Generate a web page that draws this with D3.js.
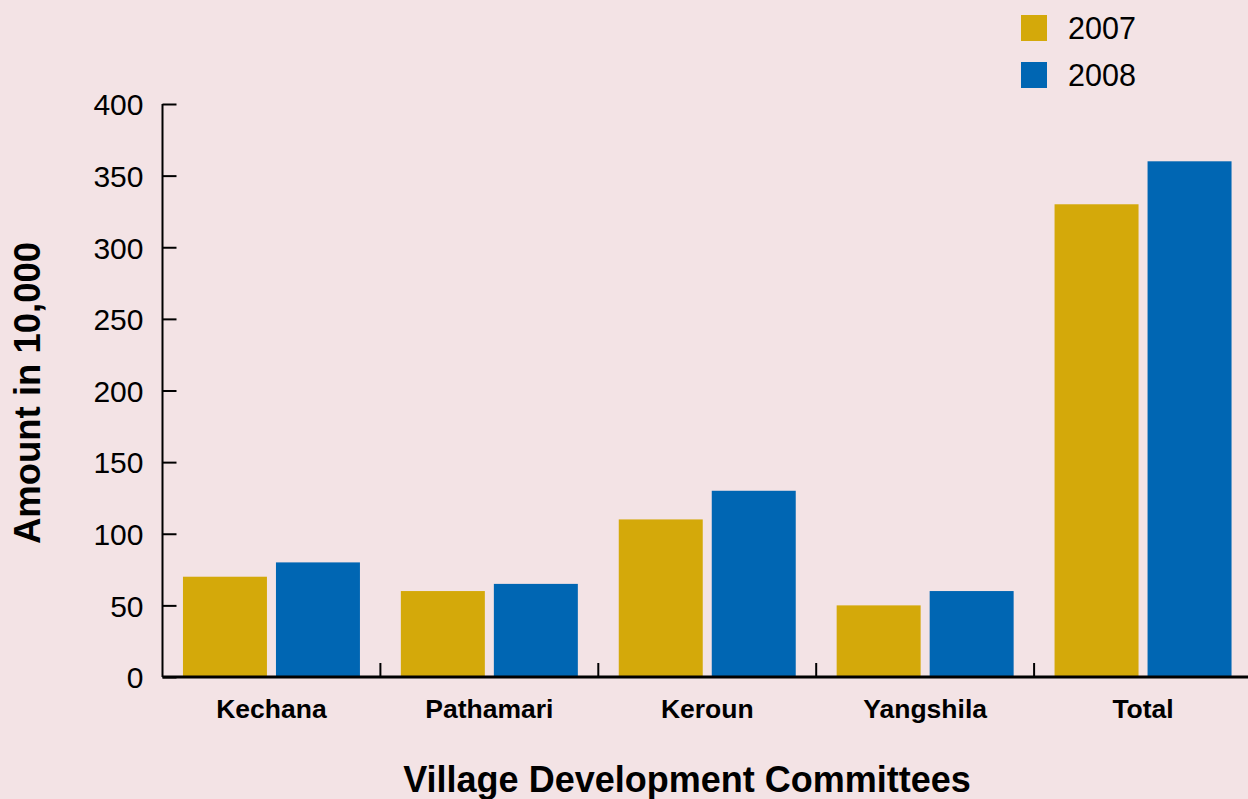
<!DOCTYPE html>
<html>
<head>
<meta charset="utf-8">
<script src="https://cdn.jsdelivr.net/npm/d3@7"></script>
<style>
  body { margin: 0; background: #f3e3e5; }
  svg { display: block; font-family: "Liberation Sans", Arial, sans-serif; }
</style>
</head>
<body>
<div id="chart"></div>
<script>
/* DATA */
const committees = ["Kechana", "Pathamari", "Keroun", "Yangshila", "Total"];
const years = ["2007", "2008"];
const values2007 = [70, 60, 110, 50, 330];
const values2008 = [80, 65, 130, 60, 360];
const yTicks = [0, 50, 100, 150, 200, 250, 300, 350, 400];
const colors = ["#d4a90a", "#0066b3"];

/* LAYOUT */
const width = 1248,
  height = 799,
  margin = { top: 104, bottom: 122, left: 162.5, right: -4 };

const rows = committees.map((c, i) => ({ name: c, vals: [values2007[i], values2008[i]] }));

const svg = d3.select("#chart")
  .append("svg")
  .attr("width", width)
  .attr("height", height);

svg.append("rect")
  .attr("width", width)
  .attr("height", height)
  .attr("fill", "#f3e3e5");

// scales
const xScale = d3.scaleBand()
  .domain(committees)
  .range([margin.left, width - margin.right]);

const xInner = d3.scaleBand()
  .domain(years)
  .range([0, xScale.bandwidth()])
  .paddingInner(0.097)
  .paddingOuter(0.22);

const yScale = d3.scaleLinear()
  .domain([0, 400])
  .range([height - margin.bottom, margin.top]);

const color = d3.scaleOrdinal().domain(years).range(colors);

// bars
svg.append("g")
  .selectAll("g")
  .data(rows)
  .join("g")
  .attr("transform", d => `translate(${xScale(d.name)},0)`)
  .selectAll("rect")
  .data(d => d.vals.map((v, j) => ({ year: years[j], value: v })))
  .join("rect")
  .attr("x", d => xInner(d.year))
  .attr("width", xInner.bandwidth())
  .attr("y", d => yScale(d.value))
  .attr("height", d => yScale(0) - yScale(d.value))
  .attr("fill", d => color(d.year));

// y axis (ticks pointing inward)
const yAxis = d3.axisRight(yScale)
  .tickValues(yTicks)
  .tickSize(14)
  .tickFormat(d3.format("d"));

const yG = svg.append("g")
  .attr("transform", `translate(${margin.left},0)`)
  .call(yAxis);
yG.select(".domain").remove();
yG.append("line")
  .attr("x1", 0).attr("x2", 0)
  .attr("y1", yScale(400)).attr("y2", yScale(0))
  .attr("stroke", "#000").attr("stroke-width", 2);
yG.selectAll(".tick line").attr("stroke", "#000").attr("stroke-width", 2);
yG.selectAll(".tick text")
  .attr("x", -19)
  .attr("text-anchor", "end")
  .attr("dy", "0.36em")
  .attr("font-size", 30)
  .attr("fill", "#000");

// x axis: ticks at category boundaries pointing up
const xG = svg.append("g")
  .attr("transform", `translate(0,${yScale(0)})`);
xG.append("line")
  .attr("x1", margin.left).attr("x2", width)
  .attr("stroke", "#000").attr("stroke-width", 3);
xG.selectAll(".sep")
  .data(committees.slice(1))
  .join("line")
  .attr("class", "sep")
  .attr("x1", d => xScale(d)).attr("x2", d => xScale(d))
  .attr("y1", 0).attr("y2", -14)
  .attr("stroke", "#000").attr("stroke-width", 2);
xG.selectAll(".cat")
  .data(committees)
  .join("text")
  .attr("class", "cat")
  .attr("x", d => xScale(d) + xScale.bandwidth() / 2)
  .attr("y", 41)
  .attr("text-anchor", "middle")
  .attr("font-size", 26.5)
  .attr("font-weight", "bold")
  .text(d => d);

// axis titles
svg.append("text")
  .attr("x", 687)
  .attr("y", 792)
  .attr("text-anchor", "middle")
  .attr("font-size", 36)
  .attr("font-weight", "bold")
  .text("Village Development Committees");

svg.append("text")
  .attr("transform", "translate(40,393) rotate(-90)")
  .attr("text-anchor", "middle")
  .attr("font-size", 36.5)
  .attr("font-weight", "bold")
  .text("Amount in 10,000");

// legend
const legend = svg.append("g")
  .selectAll("g")
  .data(years)
  .join("g")
  .attr("transform", (d, i) => `translate(1021,${15 + i * 47})`);
legend.append("rect")
  .attr("width", 26)
  .attr("height", 26)
  .attr("fill", d => color(d));
legend.append("text")
  .attr("x", 47)
  .attr("y", 24)
  .attr("font-size", 30.5)
  .text(d => d);
</script>
</body>
</html>
